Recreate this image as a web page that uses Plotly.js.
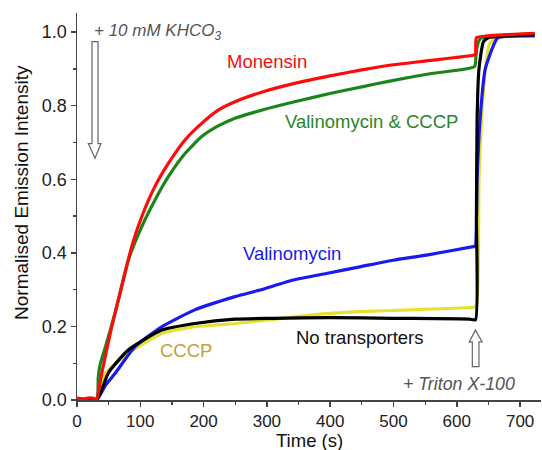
<!DOCTYPE html>
<html><head><meta charset="utf-8">
<script src="https://cdn.plot.ly/plotly-3.0.1.min.js"></script>
<style>html,body{margin:0;padding:0;background:#fff}#chart{width:542px;height:450px}</style>
</head><body><div id="chart"></div>
<script>
// Time (s) and normalised intensity
const redT = [0,10,20,28,31,39,54.8,70.6,86.4,102.2,123,144.3,170.6,197,223,249.6,294,347,399.5,452,494,557.6,626,629.5,631,650,680,723];
const redV = [0.005,0.003,0.006,0.004,0.002,0.072,0.199,0.308,0.417,0.498,0.58,0.643,0.707,0.752,0.788,0.811,0.838,0.862,0.881,0.898,0.91,0.923,0.937,0.94,0.985,0.99,0.993,0.997];

const greenT = [0,31,33.5,36.3,45,60,81,102,123,144.3,170.6,197,223,249.6,294,347,399.5,452,494,557.6,628,630,632,636,645,660,723];
const greenV = [0,0,0.06,0.095,0.145,0.236,0.38,0.47,0.543,0.607,0.67,0.716,0.745,0.766,0.789,0.812,0.833,0.852,0.867,0.887,0.906,0.93,0.96,0.98,0.988,0.99,0.995];

const blueT = [0,31,45,60,91.6,133.8,186,249.6,289,341.6,394,447,499.5,552,626,629,632,636.6,645,657,665,723];
const blueV = [0,0,0.04,0.072,0.145,0.199,0.245,0.281,0.299,0.326,0.344,0.362,0.38,0.394,0.417,0.418,0.6,0.76,0.9,0.96,0.985,0.99];

const yellowT = [0,31,44,81,133.8,186,249.6,310,368,447,526,626,631,635,639,645,652,665,723];
const yellowV = [0,0,0.07,0.127,0.181,0.199,0.208,0.219,0.231,0.24,0.245,0.252,0.255,0.6,0.76,0.9,0.97,0.985,0.993];

const blackT = [0,31,50,81,133.8,186,249.6,310,400,500,620,629.5,631,632,635,642,650,680,723];
const blackV = [0,0,0.075,0.136,0.19,0.208,0.22,0.222,0.224,0.222,0.22,0.218,0.5,0.76,0.9,0.974,0.985,0.99,0.993];

const xTicks = [0,100,200,300,400,500,600,700];
const yTicks = [0.0,0.2,0.4,0.6,0.8,1.0];

const FONT = 'Liberation Sans, Arial, sans-serif';
function tr(x,y,c){return {x:x,y:y,type:'scatter',mode:'lines',line:{color:c,width:3.2,shape:'spline',smoothing:0.5},hoverinfo:'skip',showlegend:false};}
const data = [
  tr(yellowT,yellowV,'#e6e032'),
  tr(blueT,blueV,'#1a1aee'),
  tr(greenT,greenV,'#1a861a'),
  tr(blackT,blackV,'#000000'),
  tr(redT,redV,'#ff0a0a')
];

const gray = '#666';
const shapes = [
  {type:'path', xref:'x', yref:'y', line:{color:gray,width:1.2}, fillcolor:'rgba(0,0,0,0)',
   path:'M 23.7 0.974 L 33.2 0.974 L 33.2 0.697 L 37.9 0.697 L 28.4 0.657 L 17.9 0.697 L 23.7 0.697 Z'},
  {type:'path', xref:'x', yref:'y', line:{color:gray,width:1.2}, fillcolor:'rgba(0,0,0,0)',
   path:'M 624.5 0.0905 L 635 0.0905 L 635 0.158 L 640 0.158 L 629.5 0.19 L 619.6 0.158 L 624.5 0.158 Z'}
];

function lab(t,x,y,c,sz,extra){return Object.assign({text:t,x:x,y:y,xref:'x',yref:'y',showarrow:false,font:{family:FONT,size:sz,color:c}},extra||{});}
const annotations = [
  lab('Monensin',299.4,0.919,'#ee1111',18.5),
  lab('Valinomycin &amp; CCCP',465,0.757,'#2a852a',18.5),
  lab('Valinomycin',339.5,0.398,'#1a1aee',18.5),
  lab('CCCP',172.4,0.134,'#c4a035',18.5),
  lab('No transporters',446.4,0.171,'#111',18.5),
  lab('<i>+ 10 mM KHCO<sub>3</sub></i>',23.7,1.0,'#555',17,{xanchor:'left'}),
  lab('<i>+ Triton X-100</i>',603.6,0.044,'#555',17.8),
  // axis titles
  {text:'Time (s)', xref:'paper', yref:'paper', x:0.5, y:-0.0762, xanchor:'center', yanchor:'top', showarrow:false,
   height:20, borderpad:0, valign:'middle', font:{family:FONT,size:18.5,color:'#111'}},
  {text:'Normalised Emission Intensity', xref:'paper', yref:'paper', x:-0.1185, y:0.535, xanchor:'center', yanchor:'middle',
   textangle:-90, showarrow:false, font:{family:FONT,size:19,color:'#111'}}
];

const layout = {
  width:542, height:450,
  margin:{l:77,r:1,t:13,b:50},
  paper_bgcolor:'#fff', plot_bgcolor:'#fff',
  font:{family:FONT,size:17,color:'#222'},
  xaxis:{range:[0,733], tickvals:xTicks, ticks:'outside', ticklen:5, tickwidth:1.5, tickcolor:'#444',
    minor:{dtick:50, tick0:0, ticks:'outside', ticklen:3, tickwidth:1.2, tickcolor:'#444', showgrid:false},
    showline:true, linecolor:'#444', linewidth:1.5, showgrid:false, zeroline:false,
    tickfont:{family:FONT,size:17,color:'#222'}},
  yaxis:{range:[0,1.052], tickvals:yTicks, tickformat:'.1f', ticks:'outside', ticklen:5, tickwidth:1.5, tickcolor:'#444',
    minor:{dtick:0.1, tick0:0, ticks:'outside', ticklen:3, tickwidth:1.2, tickcolor:'#444', showgrid:false},
    showline:true, linecolor:'#444', linewidth:1.5, showgrid:false, zeroline:false,
    tickfont:{family:FONT,size:18,color:'#222'}},
  shapes:shapes, annotations:annotations
};
Plotly.newPlot('chart', data, layout, {staticPlot:true, displayModeBar:false});
</script></body></html>
